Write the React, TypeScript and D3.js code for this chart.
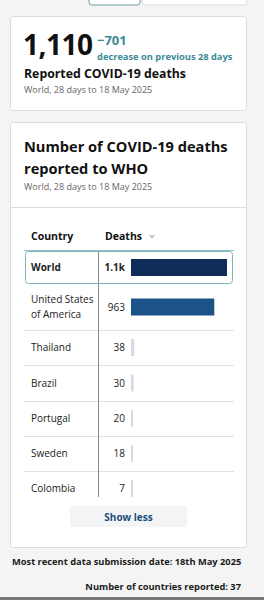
import React from 'react';
import * as d3 from 'd3';

const countries = ['World', 'United States of America', 'Thailand', 'Brazil', 'Portugal', 'Sweden', 'Colombia'];
const deaths = [1110, 963, 38, 30, 20, 18, 7];
const deathLabels = ['1.1k', '963', '38', '30', '20', '18', '7'];
const rowHeights = [33, 46, 35, 36, 35, 35, 35];

const FONT = '"Open Sans", "Noto Sans", sans-serif';

const App: React.FC = () => {
  const width = 264;
  const height = 600;

  // bars start at x=131, world bar ends at 227
  const x = d3.scaleLinear().domain([0, 1110]).range([131, 227]);
  const barColor = d3.scaleThreshold<number, string>()
    .domain([100, 1000])
    .range(['#d3dce6', '#1b5389', '#0f2c58']);

  const tableTop = 251;
  const rowTops = rowHeights.reduce<number[]>((acc, h, i) => {
    acc.push(i === 0 ? tableTop : acc[i - 1] + rowHeights[i - 1]);
    return acc;
  }, []);
  const clipBottom = 497;

  return (
    <svg
      width={width}
      height={height}
      style={{ position: 'fixed', left: 0, top: 0, display: 'block' }}
      fontFamily={FONT}
    >
      <defs>
        <clipPath id="tableClip">
          <rect x={10} y={tableTop - 2} width={237} height={clipBottom - tableTop + 2} />
        </clipPath>
      </defs>
      <rect width={width} height={height} fill="#f4f4f4" />

      {/* tabs at top */}
      <rect x={89} y={-6} width={51} height={11} rx={3} fill="#fff" stroke="#6e9fa6" />
      <rect x={142} y={-6} width={105} height={11} rx={3} fill="#fff" stroke="#dcdcdc" />

      {/* headline card */}
      <rect x={10.5} y={16.5} width={236} height={94} rx={3} fill="#fff" stroke="#dcdcdc" />
      <text x={23} y={55} fontSize={28} fontWeight={700} fill="#111" letterSpacing={-0.5}>1,110</text>
      <text x={97} y={45} fontSize={13} fontWeight={700} fill="#3a8b96">−701</text>
      <text x={97} y={60} fontSize={9.3} fontWeight={700} fill="#3a8b96">decrease on previous 28 days</text>
      <text x={24} y={78} fontSize={12.3} fontWeight={700} fill="#111">Reported COVID-19 deaths</text>
      <text x={24} y={93} fontSize={9} fill="#666">World, 28 days to 18 May 2025</text>

      {/* table card */}
      <rect x={10.5} y={122.5} width={236} height={425} rx={3} fill="#fff" stroke="#dcdcdc" />
      <text x={24} y={152} fontSize={14.6} fontWeight={700} fill="#111">Number of COVID-19 deaths</text>
      <text x={24} y={174} fontSize={14.6} fontWeight={700} fill="#111">reported to WHO</text>
      <text x={24} y={190} fontSize={9} fill="#666">World, 28 days to 18 May 2025</text>
      <line x1={11} x2={246} y1={207.5} y2={207.5} stroke="#dcdcdc" />

      <text x={31} y={240} fontSize={10.5} fontWeight={700} fill="#111">Country</text>
      <text x={105} y={240} fontSize={10.5} fontWeight={700} fill="#111">Deaths</text>
      <path d="M149,235 L155,235 L152,239 Z" fill="#c8c8c8" />
      <line x1={24} x2={234} y1={250.5} y2={250.5} stroke="#8fc3c9" />

      <g clipPath="url(#tableClip)">
        {countries.map((c, i) => {
          const top = rowTops[i];
          const h = rowHeights[i];
          const mid = top + h / 2;
          const isWorld = i === 0;
          const words = c === 'United States of America' ? ['United States', 'of America'] : [c];
          const w = Math.max(2, x(deaths[i]) - x(0));
          return (
            <g key={c}>
              {i > 1 && (
                <line x1={24} x2={234} y1={top + 0.5} y2={top + 0.5} stroke="#e2e2e2" />
              )}
              {words.map((wd, j) => (
                <text
                  key={wd}
                  x={31}
                  y={mid + 3.5 + (j - (words.length - 1) / 2) * 15}
                  fontSize={isWorld ? 10 : 10}
                  fontWeight={isWorld ? 700 : 400}
                  fill="#222"
                >
                  {wd}
                </text>
              ))}
              <text
                x={125}
                y={mid + 3.5}
                textAnchor="end"
                fontSize={10}
                fontWeight={isWorld ? 700 : 400}
                fill="#222"
              >
                {deathLabels[i]}
              </text>
              <rect x={x(0)} y={mid - 8.5} width={w} height={17} fill={barColor(deaths[i])} />
            </g>
          );
        })}
        <line x1={98.5} x2={98.5} y1={tableTop} y2={clipBottom} stroke="#8a8a8a" />
      </g>
      <rect x={25.5} y={251.5} width={207} height={32} rx={3} fill="none" stroke="#7fb4bc" />

      {/* show less button */}
      <rect x={70} y={506} width={117} height={21} rx={2} fill="#f3f4f5" />
      <text x={128.5} y={521} textAnchor="middle" fontSize={10} fontWeight={700} fill="#1e4f7b">Show less</text>

      {/* footer */}
      <text x={12} y={565} fontSize={9.3} fontWeight={700} fill="#1a1a1a">Most recent data submission date: 18th May 2025</text>
      <text x={241} y={590} textAnchor="end" fontSize={9.3} fontWeight={700} fill="#1a1a1a">Number of countries reported: 37</text>
      <rect x={0} y={597} width={width} height={3} fill="#777" />
    </svg>
  );
};

export default App;
